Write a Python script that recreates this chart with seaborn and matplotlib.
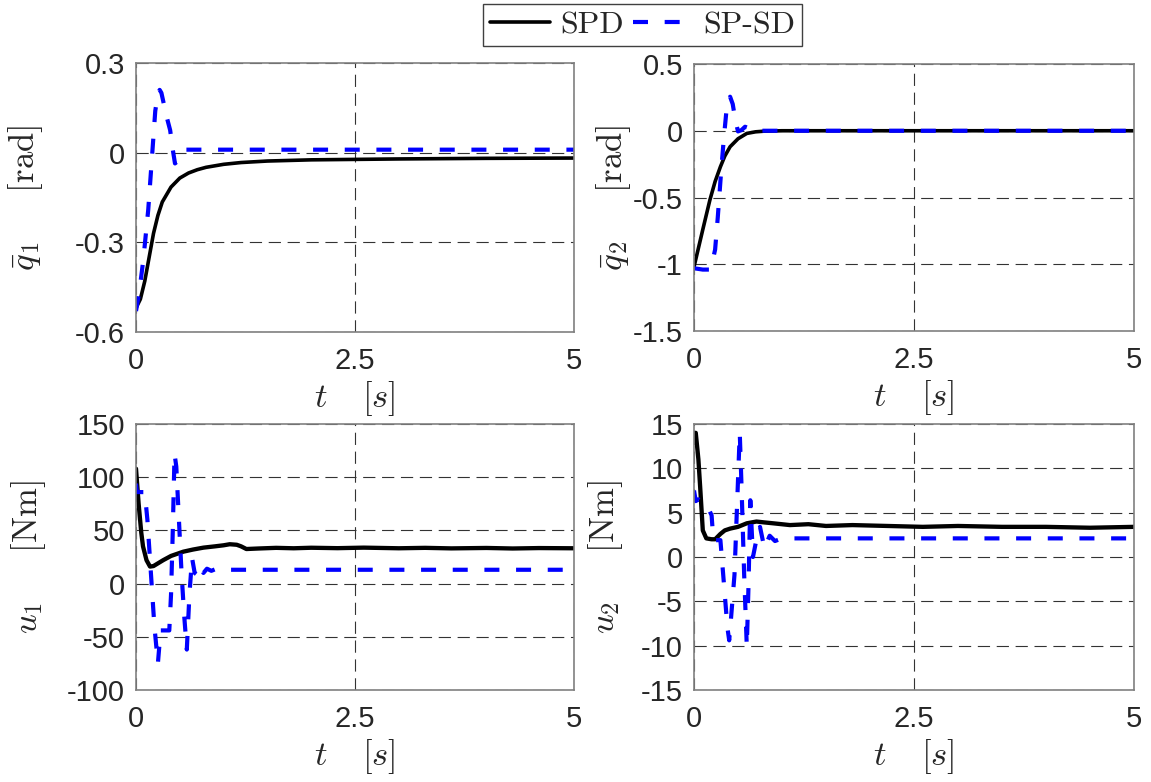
import numpy as np
import pandas as pd
import matplotlib
matplotlib.use("Agg")
import matplotlib.pyplot as plt
import seaborn as sns

# ---------------- data ----------------
series_names = ["SPD", "SP-SD"]

# q1 bar [rad]
t_q1_spd = [0, 0.05, 0.1, 0.15, 0.2, 0.25, 0.3, 0.4, 0.5, 0.6, 0.7, 0.8, 1.0, 1.2, 1.5, 2.0, 3.0, 4.0, 5.0]
q1_spd = [-0.52, -0.49, -0.43, -0.35, -0.27, -0.21, -0.165, -0.115, -0.085, -0.068, -0.057, -0.049,
          -0.039, -0.033, -0.028, -0.024, -0.021, -0.019, -0.018]
t_q1_spsd = [0, 0.04, 0.083, 0.14, 0.18, 0.22, 0.25, 0.27, 0.29, 0.32, 0.35, 0.39, 0.42, 0.445,
             0.47, 0.5, 0.56, 1.0, 5.0]
q1_spsd = [-0.53, -0.46, -0.36, -0.19, -0.025, 0.14, 0.195, 0.21, 0.2, 0.16, 0.12, 0.075, 0.01,
           -0.036, -0.03, -0.013, 0.01, 0.01, 0.01]

# q2 bar [rad]
t_q2_spd = [0, 0.05, 0.1, 0.18, 0.24, 0.3, 0.35, 0.41, 0.5, 0.6, 0.7, 0.8, 1.0, 5.0]
q2_spd = [-1.02, -0.88, -0.74, -0.52, -0.38, -0.27, -0.19, -0.12, -0.06, -0.02, -0.008, -0.003, 0.0, 0.0]
t_q2_spsd = [0, 0.1, 0.18, 0.21, 0.24, 0.27, 0.31, 0.34, 0.37, 0.41, 0.44, 0.47, 0.5, 0.54, 0.58,
             0.62, 0.66, 1.0, 5.0]
q2_spsd = [-1.03, -1.04, -1.04, -0.98, -0.89, -0.65, -0.29, -0.05, 0.16, 0.255, 0.2, 0.08, -0.005,
           0.005, 0.03, 0.02, 0.0, 0.0, 0.0]

# u1 [Nm]
t_u1_spd = [0, 0.03, 0.06, 0.08, 0.12, 0.16, 0.2, 0.25, 0.31, 0.4, 0.54, 0.65, 0.77, 0.9, 1.0, 1.07,
            1.15, 1.2, 1.26, 1.4, 1.6, 1.8, 2.0, 2.3, 2.6, 3.0, 3.3, 3.6, 4.0, 4.3, 4.6, 5.0]
u1_spd = [108, 75, 48, 35, 22, 16, 16.5, 19, 22, 26, 30, 32, 33.8, 35, 36, 37, 36.5, 35, 32.5, 33,
          33.6, 33.2, 33.7, 33.3, 33.8, 33.2, 33.6, 33.1, 33.5, 33.0, 33.4, 33.2]
t_u1_spsd = [0, 0.01, 0.1, 0.13, 0.17, 0.21, 0.25, 0.27, 0.28, 0.38, 0.4, 0.42, 0.44, 0.46, 0.49,
             0.52, 0.55, 0.58, 0.61, 0.64, 0.67, 0.7, 0.73, 0.77, 0.81, 0.86, 0.92, 1.0, 5.0]
u1_spsd = [94, 86, 86, 60, 10, -40, -75, -55, -44, -44, -10, 50, 122, 110, 60, 10, -30, -62, -10,
           24, 10, 8, 16, 10, 14, 12, 14, 13, 13]

# u2 [Nm]
t_u2_spd = [0, 0.02, 0.05, 0.07, 0.1, 0.14, 0.2, 0.24, 0.3, 0.35, 0.41, 0.5, 0.6, 0.71, 0.8, 0.9,
            1.09, 1.3, 1.5, 1.8, 2.2, 2.6, 3.0, 3.5, 4.0, 4.5, 5.0]
u2_spd = [14, 14, 11, 7.9, 3, 2.1, 2.0, 2.0, 2.6, 3.0, 3.2, 3.4, 3.8, 4.0, 3.9, 3.8, 3.6, 3.7, 3.5,
          3.6, 3.5, 3.4, 3.5, 3.4, 3.4, 3.3, 3.4]
t_u2_spsd = [0, 0.02, 0.05, 0.1, 0.14, 0.2, 0.22, 0.3, 0.34, 0.38, 0.4, 0.42, 0.46, 0.49, 0.52,
             0.54, 0.57, 0.6, 0.62, 0.64, 0.67, 0.71, 0.75, 0.8, 0.86, 0.92, 1.0, 5.0]
u2_spsd = [7.5, 6.3, 6.5, 6.2, 6.0, 4.7, 1.9, 1.9, -3, -8, -9.4, -7, -2, 6, 14, 8, -2, -10.1, -3,
           6.4, 0, 2, 3.4, 1.0, 2.4, 1.8, 2.1, 2.1]

x_ticks = [0, 2.5, 5]
x_ticklabels = ["0", "2.5", "5"]
q1_ticks = [0.3, 0, -0.3, -0.6]
q1_ticklabels = ["0.3", "0", "-0.3", "-0.6"]
q2_ticks = [0.5, 0, -0.5, -1, -1.5]
q2_ticklabels = ["0.5", "0", "-0.5", "-1", "-1.5"]
u1_ticks = [150, 100, 50, 0, -50, -100]
u1_ticklabels = ["150", "100", "50", "0", "-50", "-100"]
u2_ticks = [15, 10, 5, 0, -5, -10, -15]
u2_ticklabels = ["15", "10", "5", "0", "-5", "-10", "-15"]

ylabels = [r"$\bar{q}_1\quad\;\;\mathrm{[rad]}$", r"$\bar{q}_2\quad\;\;\mathrm{[rad]}$",
           r"$u_1\quad\;\;\mathrm{[Nm]}$", r"$u_2\quad\;\;\mathrm{[Nm]}$"]
xlabel = r"$t\quad\,[s]$"

# ---------------- styling ----------------
sns.set_style("white")
plt.rcParams["font.family"] = ["Liberation Sans", "DejaVu Sans"]
plt.rcParams["mathtext.fontset"] = "cm"

fig = plt.figure(figsize=(11.51, 7.82), dpi=100)
W, H = 1151, 782
def rect(l, r, t, b):
    return [l / W, 1 - b / H, (r - l) / W, (b - t) / H]

ax1 = fig.add_axes(rect(136, 574, 63, 332))
ax2 = fig.add_axes(rect(694, 1134, 64, 331))
ax3 = fig.add_axes(rect(136, 574, 424, 690))
ax4 = fig.add_axes(rect(694, 1134, 424, 690))

panels = [
    (ax1, t_q1_spd, q1_spd, t_q1_spsd, q1_spsd, (-0.6, 0.3), q1_ticks, q1_ticklabels, -0.208, 2.6),
    (ax2, t_q2_spd, q2_spd, t_q2_spsd, q2_spsd, (-1.5, 0.5), q2_ticks, q2_ticklabels, -0.139, 2.6),
    (ax3, t_u1_spd, u1_spd, t_u1_spsd, u1_spsd, (-100, 150), u1_ticks, u1_ticklabels, -0.201, 3.1),
    (ax4, t_u2_spd, u2_spd, t_u2_spsd, u2_spsd, (-15, 15), u2_ticks, u2_ticklabels, -0.157, 3.1),
]

spine_col = "#808080"
for i, (ax, ts, ys, tb, yb, ylim, yt, ytl, ylx, blw) in enumerate(panels):
    sns.lineplot(x=ts, y=ys, ax=ax, color="black", linewidth=blw, estimator=None, sort=False,
                 label=series_names[0] if i == 0 else None, legend=False)
    sns.lineplot(x=tb, y=yb, ax=ax, color="#0000ff", linewidth=3.0, estimator=None, sort=False,
                 label=series_names[1] if i == 0 else None, legend=False)
    ax.lines[-1].set_dashes((3.6, 4.0))
    ax.set_xlim(0, 5)
    ax.set_ylim(*ylim)
    ax.set_xticks(x_ticks)
    ax.set_xticklabels(x_ticklabels)
    ax.set_yticks(yt)
    ax.set_yticklabels(ytl)
    ax.grid(True, linestyle=(0, (11, 6)), linewidth=0.8, color="#333333")
    ax.set_axisbelow(True)
    for s in ax.spines.values():
        s.set_color(spine_col)
        s.set_linewidth(1.2)
        s.set_visible(True)
    ax.tick_params(axis="both", direction="in", length=5, width=1, color=spine_col,
                   labelsize=21, labelcolor="#262626")
    ax.tick_params(axis="y", pad=8)
    ax.tick_params(axis="x", pad=11)
    ax.set_xlabel(xlabel, fontsize=25, color="#262626")
    ax.xaxis.set_label_coords(0.5, -0.175)
    ax.xaxis.label.set_va("top")
    ax.set_ylabel(ylabels[i], fontsize=25, color="#262626")
    ax.yaxis.set_label_coords(ylx, 0.5)

handles = [ax1.lines[0], ax1.lines[1]]
leg = fig.legend(handles, series_names, loc="center", ncol=2,
                 bbox_to_anchor=(642.5 / W, 1 - 25 / H),
                 prop={"family": "cmr10", "size": 23},
                 frameon=True, fancybox=False, edgecolor="#404040", framealpha=1,
                 handlelength=1.9, handletextpad=0.3, columnspacing=0.3,
                 borderpad=0.2, borderaxespad=0)
leg.get_frame().set_linewidth(1.0)

fig.savefig("out.png", dpi=100)
